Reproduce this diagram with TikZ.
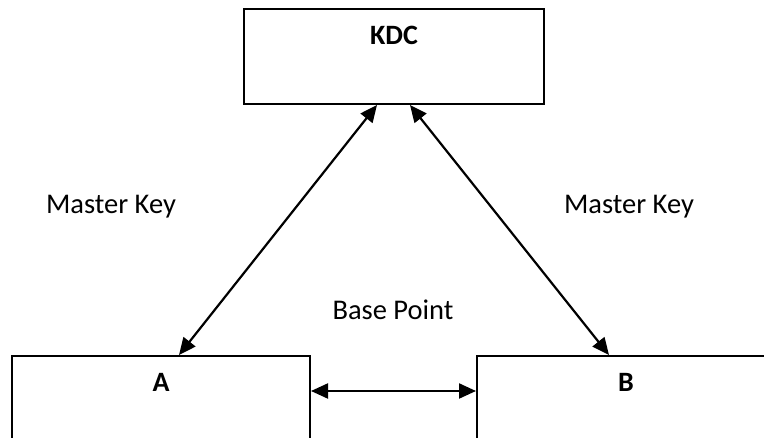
\documentclass[tikz,border=0pt]{standalone}
\usepackage{fontspec}
\setmainfont{Carlito}
\usepackage{tikz}
\usetikzlibrary{arrows.meta}
\usetikzlibrary{positioning}

\begin{document}
\begin{tikzpicture}[x=1pt,y=-1pt,box/.style={rectangle, draw=black, line width=2pt, fill=white, inner sep=0pt}]
    \tikzset{boxtext/.style={font=\fontsize{28}{33}\selectfont\bfseries, inner sep=0pt, anchor=base}}
    \tikzset{keytext/.style={font=\fontsize{28.5}{33}\selectfont, inner sep=0pt, anchor=base}}
    \tikzset{link/.style={line width=2.2pt, {Triangle[length=17pt,width=15pt]}-{Triangle[length=17pt,width=15pt]}}}
    \useasboundingbox (0,0) rectangle (764,438);
    \clip (0,0) rectangle (764,438);
    \def \bw {298pt} \def \dy {37pt}
    % the lower boxes run past the edge of the page
    \node[box, anchor=north west, minimum width=300pt, minimum height=95pt] (kdc) at (243,8) {};
    \node[box, anchor=north west, minimum width=\bw, minimum height=130pt] (a) at (11,355) {};
    \node[box, anchor=north west, minimum width=\bw, minimum height=130pt] (b) at (476,355) {};
    
    \node[boxtext] (kdclab) at ([yshift=-\dy]kdc.north) {KDC};
    \node[boxtext] (alab) at ([yshift=-\dy]a.north) {A};
    \node[boxtext] (blab) at ([yshift=-\dy]b.north) {B};
    
    \draw[link] ([xshift=-17pt]kdc.south) -- ([xshift=18pt]a.north);
    \draw[link] ([xshift=16pt]kdc.south) -- ([xshift=-17pt]b.north);
    \draw[link] ([yshift=-36pt]a.north east) -- ([yshift=-36pt]b.north west);
    
    \node[keytext] (mk1) at (111,214) {Master Key};
    \node[keytext] (mk2) at (629,214) {Master Key};
    \node[keytext] (bp) at (393,320) {Base Point};
    %\node[keytext] at (393,320) {};
\end{tikzpicture}
\end{document}
